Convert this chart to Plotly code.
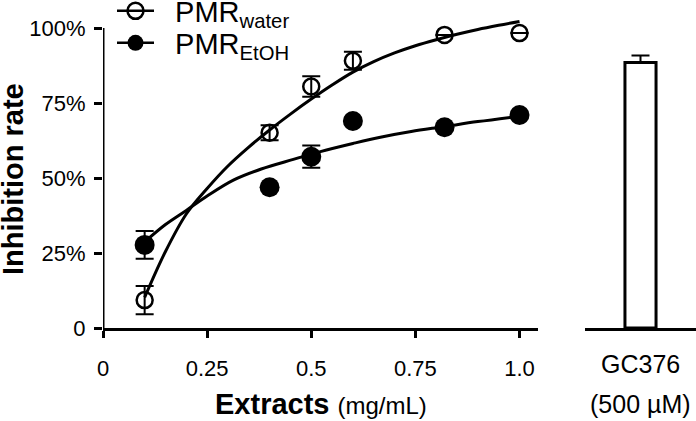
import plotly.graph_objects as go

# ---- data ----
conc = [0.1, 0.4, 0.5, 0.6, 0.82, 1.0]
water = [9.3, 65.1, 80.5, 89.1, 97.7, 98.3]
water_err = [4.7, 2.5, 3.4, 3.0, None, None]
etoh = [27.7, 46.9, 57.1, 69.0, 66.9, 71.0]
etoh_err = [4.6, None, 3.7, None, None, None]

water_fit_x = [0.1, 0.15, 0.2, 0.25, 0.3, 0.35, 0.4, 0.45, 0.5, 0.55, 0.6, 0.65, 0.7, 0.75, 0.8, 0.85, 0.9, 0.95, 1.0]
water_fit_y = [10.2, 25.5, 38.0, 46.5, 54.0, 60.3, 66.0, 71.3, 76.3, 81.0, 85.3, 88.8, 91.7, 94.1, 96.1, 97.9, 99.5, 100.9, 102.2]
etoh_fit_x = [0.1, 0.15, 0.2, 0.25, 0.313, 0.38, 0.457, 0.522, 0.6, 0.666, 0.74, 0.818, 0.9, 1.0]
etoh_fit_y = [28.7, 34.5, 39.2, 44.0, 49.3, 53.0, 56.2, 58.8, 61.5, 63.6, 65.5, 67.1, 68.8, 70.6]

series_names = ["PMR<sub>water</sub>", "PMR<sub>EtOH</sub>"]
gc_label = ["GC376", "(500 µM)"]
gc_value = [88.5]
gc_err = [2.3]

x_ticks = [0, 0.25, 0.5, 0.75, 1.0]
x_ticktext = ["0", "0.25", "0.5", "0.75", "1.0"]
y_ticks = [0, 25, 50, 75, 100]
y_ticktext = ["0", "25%", "50%", "75%", "100%"]

FONT = "Liberation Sans, Arial, Helvetica, sans-serif"
W, H = 696, 421
NB = "\u00a0\u00a0"

fig = go.Figure()

# fitted curves
for fx, fy in [(water_fit_x, water_fit_y), (etoh_fit_x, etoh_fit_y)]:
    fig.add_trace(go.Scatter(x=fx, y=fy, mode="lines",
                             line=dict(color="black", width=3, shape="spline", smoothing=1),
                             showlegend=False, hoverinfo="skip"))

# data points
fig.add_trace(go.Scatter(x=conc, y=water, mode="markers", cliponaxis=False,
                         marker=dict(symbol="circle-open", size=16, color="black", line=dict(width=2.5, color="black")),
                         error_y=dict(type="data", array=water_err, color="black", thickness=2, width=9),
                         showlegend=False))
fig.add_trace(go.Scatter(x=conc, y=etoh, mode="markers", cliponaxis=False,
                         marker=dict(symbol="circle", size=20, color="black"),
                         error_y=dict(type="data", array=etoh_err, color="black", thickness=2, width=9),
                         showlegend=False))

# legend entries (each in its own legend box for exact placement)
fig.add_trace(go.Scatter(x=[None], y=[None], mode="lines+markers", name=NB + series_names[0],
                         legend="legend",
                         line=dict(color="black", width=2.5),
                         marker=dict(symbol="circle-open", size=16, color="black", line=dict(width=2.5))))
fig.add_trace(go.Scatter(x=[None], y=[None], mode="lines+markers", name=NB + series_names[1],
                         legend="legend2",
                         line=dict(color="black", width=2.5),
                         marker=dict(symbol="circle", size=20, color="black")))

# GC376 bar
fig.add_trace(go.Bar(x=[0], y=gc_value, width=0.28, xaxis="x2", yaxis="y2",
                     marker=dict(color="white", line=dict(color="black", width=3)),
                     error_y=dict(type="data", symmetric=False, array=gc_err, arrayminus=[0],
                                  color="black", thickness=2, width=9),
                     showlegend=False))

ydom = [(H - 328) / H, (H - 16) / H]
leg_common = dict(xanchor="left", yanchor="middle", bgcolor="rgba(0,0,0,0)",
                  font=dict(size=29), itemwidth=37, borderwidth=0)
fig.update_layout(
    template=None,
    width=W, height=H,
    margin=dict(l=0, r=0, t=0, b=0, autoexpand=False),
    paper_bgcolor="white", plot_bgcolor="white",
    font=dict(family=FONT, color="black"),
    showlegend=True,
    legend=dict(x=112 / W, y=(H - 11) / H, **leg_common),
    legend2=dict(x=112 / W, y=(H - 43) / H, **leg_common),
    xaxis=dict(domain=[103 / W, 538 / W], range=[0, 1.0444], anchor="y", automargin=False,
               tickvals=x_ticks, ticktext=x_ticktext, ticks="outside", ticklen=7, tickwidth=3,
               tickcolor="black", showline=True, linewidth=3, linecolor="black",
               showgrid=False, zeroline=False, tickfont=dict(size=22), ticklabelstandoff=12),
    yaxis=dict(domain=ydom, range=[0, 104], anchor="x", automargin=False,
               tickvals=y_ticks, ticktext=y_ticktext, ticks="outside", ticklen=8, tickwidth=3,
               tickcolor="black", showline=False, showgrid=False, zeroline=False,
               tickfont=dict(size=22), ticklabelstandoff=4),
    xaxis2=dict(domain=[585 / W, 1.0], range=[-0.5, 0.5], anchor="y2", automargin=False,
                showline=True, linewidth=3, linecolor="black", showticklabels=False,
                ticks="", showgrid=False, zeroline=False),
    yaxis2=dict(domain=ydom, range=[0, 104], anchor="x2", visible=False, automargin=False),
    shapes=[dict(type="line", xref="x", yref="y", x0=0, x1=0, y0=0, y1=100,
                 line=dict(color="black", width=3))],
    annotations=[
        dict(text="<b>Inhibition rate</b>", xref="paper", yref="paper", x=13 / W, y=(H - 179) / H,
             textangle=-90, showarrow=False, xanchor="center", yanchor="middle", font=dict(size=29)),
        dict(text="<b>Extracts</b> <span style='font-size:24px'>(mg/mL)</span>", xref="x domain", yref="paper",
             x=0.5, y=(H - 404) / H, showarrow=False, xanchor="center", yanchor="middle", font=dict(size=29)),
        dict(text=gc_label[0], xref="x2", yref="paper", x=0, y=(H - 364) / H, showarrow=False,
             xanchor="center", yanchor="middle", font=dict(size=25)),
        dict(text=gc_label[1], xref="x2", yref="paper", x=0, y=(H - 404) / H, showarrow=False,
             xanchor="center", yanchor="middle", font=dict(size=25)),
    ],
)

fig.write_html("out.html", config={"displayModeBar": False},
               post_script="document.body.style.margin='0';document.body.style.overflow='hidden';")
